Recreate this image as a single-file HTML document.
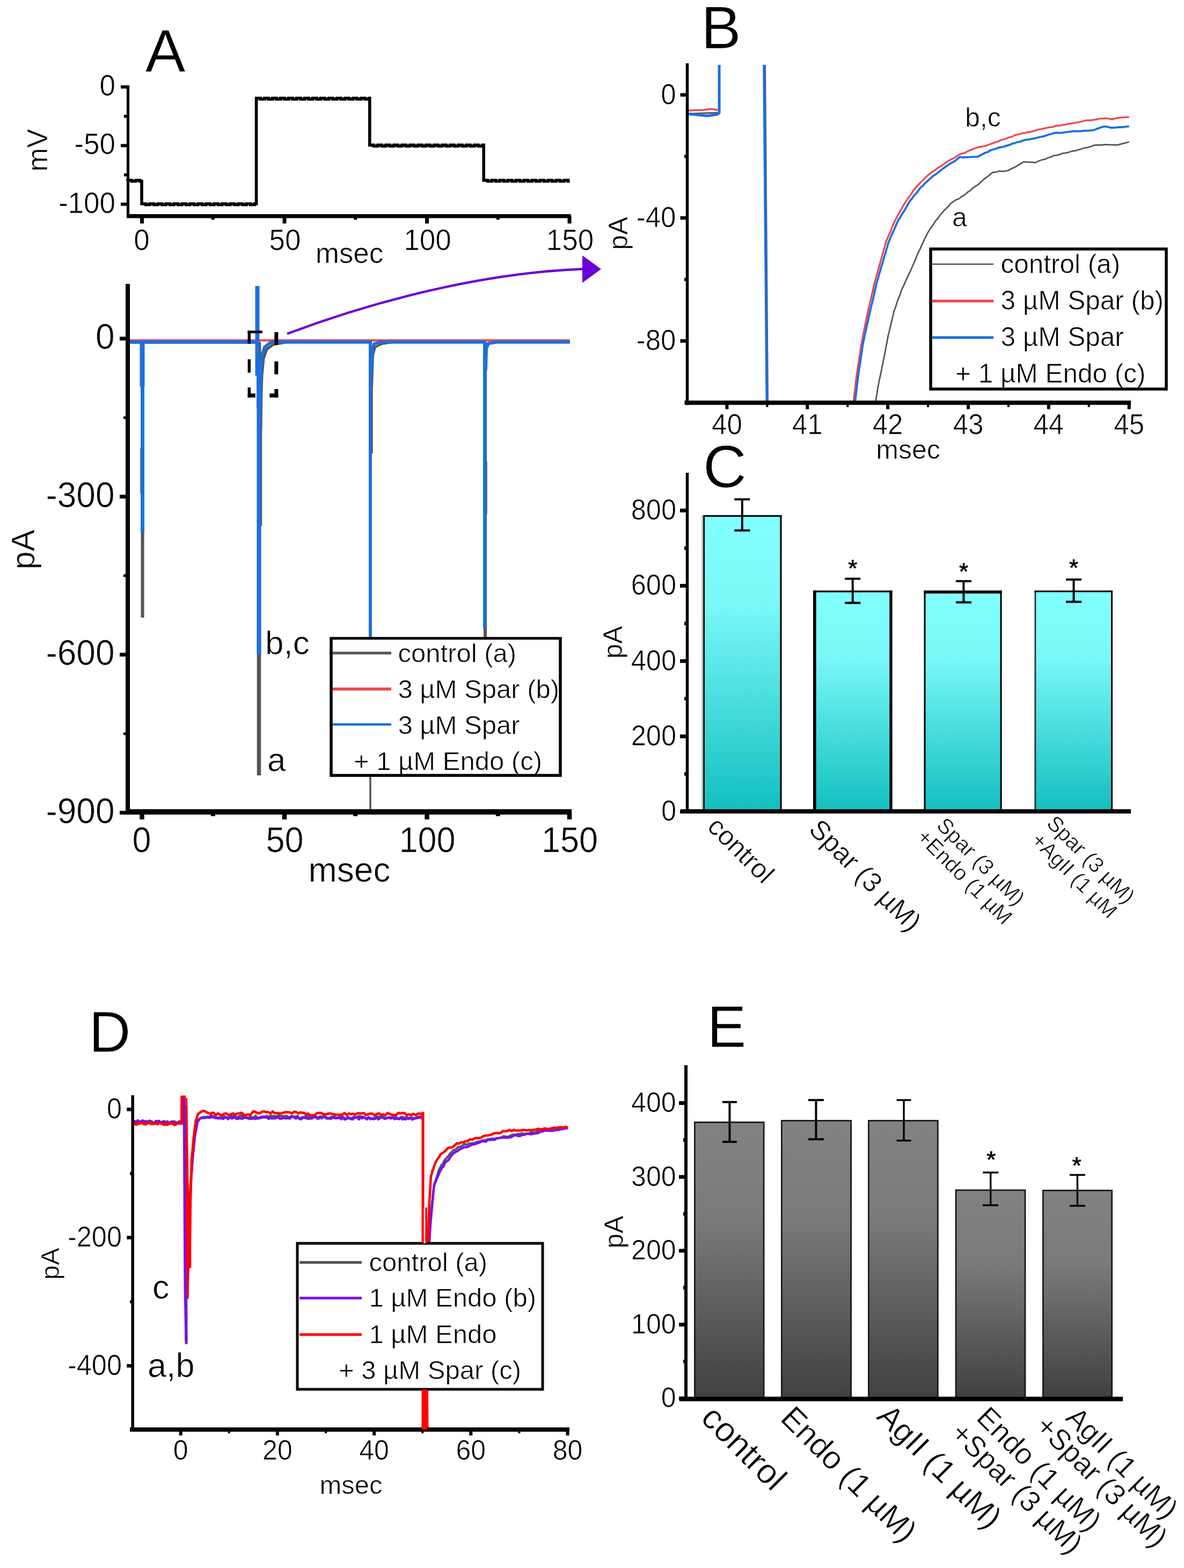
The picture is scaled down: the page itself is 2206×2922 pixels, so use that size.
<!DOCTYPE html>
<html lang="en">
<head>
<meta charset="utf-8">
<title>Figure</title>
<style>
html,body{margin:0;padding:0;background:#fff;}
body{width:2206px;height:2922px;overflow:hidden;}
svg{display:block;}
svg text{font-family:"Liberation Sans", sans-serif;fill:#000;stroke:#fff;stroke-width:0.7px;stroke-linejoin:round;}
</style>
</head>
<body>
<svg width="2206" height="2922" viewBox="0 0 2206 2922">
<rect x="0" y="0" width="2206" height="2922" fill="#ffffff"/>
<defs>
<linearGradient id="gc1" x1="0" y1="0" x2="0" y2="1"><stop offset="0" stop-color="#82ffff"/><stop offset="0.3" stop-color="#7af8f8"/><stop offset="1" stop-color="#12bfc0"/></linearGradient>
<linearGradient id="gc2" x1="0" y1="0" x2="0" y2="1"><stop offset="0" stop-color="#82ffff"/><stop offset="0.3" stop-color="#7af8f8"/><stop offset="1" stop-color="#12bfc0"/></linearGradient>
<linearGradient id="ge1" x1="0" y1="0" x2="0" y2="1"><stop offset="0" stop-color="#828282"/><stop offset="0.35" stop-color="#7a7a7a"/><stop offset="1" stop-color="#404040"/></linearGradient>
<linearGradient id="ge2" x1="0" y1="0" x2="0" y2="1"><stop offset="0" stop-color="#828282"/><stop offset="0.35" stop-color="#7a7a7a"/><stop offset="1" stop-color="#404040"/></linearGradient>
</defs>
<polyline points="238.0,336.9 238.0,336.0 245.5,336.0 245.5,337.8 253.0,337.8 253.0,336.0 260.5,336.0 260.5,337.8 264.0,337.8 264.0,379.7 271.5,379.7 271.5,381.5 279.0,381.5 279.0,379.7 286.5,379.7 286.5,381.5 294.0,381.5 294.0,379.7 301.5,379.7 301.5,381.5 309.0,381.5 309.0,379.7 316.5,379.7 316.5,381.5 324.0,381.5 324.0,379.7 331.5,379.7 331.5,381.5 339.0,381.5 339.0,379.7 346.5,379.7 346.5,381.5 354.0,381.5 354.0,379.7 361.5,379.7 361.5,381.5 369.0,381.5 369.0,379.7 376.5,379.7 376.5,381.5 384.0,381.5 384.0,379.7 391.5,379.7 391.5,381.5 399.0,381.5 399.0,379.7 406.5,379.7 406.5,381.5 414.0,381.5 414.0,379.7 421.5,379.7 421.5,381.5 429.0,381.5 429.0,379.7 436.5,379.7 436.5,381.5 444.0,381.5 444.0,379.7 451.5,379.7 451.5,381.5 459.0,381.5 459.0,379.7 466.5,379.7 466.5,381.5 474.0,381.5 474.0,379.7 477.6,379.7 477.6,183.0 485.1,183.0 485.1,184.8 492.6,184.8 492.6,183.0 500.1,183.0 500.1,184.8 507.6,184.8 507.6,183.0 515.1,183.0 515.1,184.8 522.6,184.8 522.6,183.0 530.1,183.0 530.1,184.8 537.6,184.8 537.6,183.0 545.1,183.0 545.1,184.8 552.6,184.8 552.6,183.0 560.1,183.0 560.1,184.8 567.6,184.8 567.6,183.0 575.1,183.0 575.1,184.8 582.6,184.8 582.6,183.0 590.1,183.0 590.1,184.8 597.6,184.8 597.6,183.0 605.1,183.0 605.1,184.8 612.6,184.8 612.6,183.0 620.1,183.0 620.1,184.8 627.6,184.8 627.6,183.0 635.1,183.0 635.1,184.8 642.6,184.8 642.6,183.0 650.1,183.0 650.1,184.8 657.6,184.8 657.6,183.0 665.1,183.0 665.1,184.8 672.6,184.8 672.6,183.0 680.1,183.0 680.1,184.8 687.6,184.8 687.6,183.0 688.8,183.0 688.8,270.4 696.3,270.4 696.3,272.2 703.8,272.2 703.8,270.4 711.3,270.4 711.3,272.2 718.8,272.2 718.8,270.4 726.3,270.4 726.3,272.2 733.8,272.2 733.8,270.4 741.3,270.4 741.3,272.2 748.8,272.2 748.8,270.4 756.3,270.4 756.3,272.2 763.8,272.2 763.8,270.4 771.3,270.4 771.3,272.2 778.8,272.2 778.8,270.4 786.3,270.4 786.3,272.2 793.8,272.2 793.8,270.4 801.3,270.4 801.3,272.2 808.8,272.2 808.8,270.4 816.3,270.4 816.3,272.2 823.8,272.2 823.8,270.4 831.3,270.4 831.3,272.2 838.8,272.2 838.8,270.4 846.3,270.4 846.3,272.2 853.8,272.2 853.8,270.4 861.3,270.4 861.3,272.2 868.8,272.2 868.8,270.4 876.3,270.4 876.3,272.2 883.8,272.2 883.8,270.4 891.3,270.4 891.3,272.2 898.8,272.2 898.8,270.4 901.2,270.4 901.2,336.0 908.7,336.0 908.7,337.8 916.2,337.8 916.2,336.0 923.7,336.0 923.7,337.8 931.2,337.8 931.2,336.0 938.7,336.0 938.7,337.8 946.2,337.8 946.2,336.0 953.7,336.0 953.7,337.8 961.2,337.8 961.2,336.0 968.7,336.0 968.7,337.8 976.2,337.8 976.2,336.0 983.7,336.0 983.7,337.8 991.2,337.8 991.2,336.0 998.7,336.0 998.7,337.8 1006.2,337.8 1006.2,336.0 1013.7,336.0 1013.7,337.8 1021.2,337.8 1021.2,336.0 1028.7,336.0 1028.7,337.8 1036.2,337.8 1036.2,336.0 1043.7,336.0 1043.7,337.8 1051.2,337.8 1051.2,336.0 1058.7,336.0 1058.7,337.8 1061.5,337.8" fill="none" stroke="#000" stroke-width="5.6" stroke-linejoin="miter"/>
<line x1="238.5" y1="159.0" x2="238.5" y2="406.0" stroke="#000" stroke-width="5.2" />
<line x1="236.0" y1="402.7" x2="1063.5" y2="402.7" stroke="#000" stroke-width="7.4" />
<line x1="225.0" y1="162.0" x2="238.0" y2="162.0" stroke="#000" stroke-width="6" />
<text x="215.0" y="178.0" font-size="53" text-anchor="end" transform="translate(0 -8.90) scale(1 1.05)" >0</text>
<line x1="225.0" y1="271.3" x2="238.0" y2="271.3" stroke="#000" stroke-width="6" />
<text x="215.0" y="287.3" font-size="53" text-anchor="end" transform="translate(0 -14.37) scale(1 1.05)" >-50</text>
<line x1="225.0" y1="380.6" x2="238.0" y2="380.6" stroke="#000" stroke-width="6" />
<text x="215.0" y="396.6" font-size="53" text-anchor="end" transform="translate(0 -19.83) scale(1 1.05)" >-100</text>
<line x1="231.0" y1="216.7" x2="238.0" y2="216.7" stroke="#000" stroke-width="5.5" />
<line x1="231.0" y1="325.9" x2="238.0" y2="325.9" stroke="#000" stroke-width="5.5" />
<line x1="264.5" y1="402.0" x2="264.5" y2="416.5" stroke="#000" stroke-width="7" />
<text x="264.0" y="466.5" font-size="53" text-anchor="middle" transform="translate(0 -23.33) scale(1 1.05)" >0</text>
<line x1="530.0" y1="402.0" x2="530.0" y2="416.5" stroke="#000" stroke-width="7" />
<text x="531.0" y="466.5" font-size="53" text-anchor="middle" transform="translate(0 -23.33) scale(1 1.05)" >50</text>
<line x1="795.5" y1="402.0" x2="795.5" y2="416.5" stroke="#000" stroke-width="7" />
<text x="796.5" y="466.5" font-size="53" text-anchor="middle" transform="translate(0 -23.33) scale(1 1.05)" >100</text>
<line x1="1061.0" y1="402.0" x2="1061.0" y2="416.5" stroke="#000" stroke-width="7" />
<text x="1062.0" y="466.5" font-size="53" text-anchor="middle" transform="translate(0 -23.33) scale(1 1.05)" >150</text>
<line x1="396.8" y1="402.0" x2="396.8" y2="409.5" stroke="#000" stroke-width="6" />
<line x1="662.2" y1="402.0" x2="662.2" y2="409.5" stroke="#000" stroke-width="6" />
<line x1="927.8" y1="402.0" x2="927.8" y2="409.5" stroke="#000" stroke-width="6" />
<text x="651.0" y="490.0" font-size="53" text-anchor="middle" >msec</text>
<text x="88.0" y="280.0" font-size="53" text-anchor="middle" transform="rotate(-90 88.0 280.0)" >mV</text>
<text x="308.0" y="133.4" font-size="112" text-anchor="middle" >A</text>
<line x1="265.5" y1="637.5" x2="265.5" y2="1151.0" stroke="#555555" stroke-width="6" />
<line x1="262.5" y1="835.0" x2="262.5" y2="920.0" stroke="#555555" stroke-width="2.5" />
<line x1="482.5" y1="637.5" x2="482.5" y2="1445.0" stroke="#555555" stroke-width="7.5" />
<line x1="487.0" y1="800.0" x2="487.0" y2="980.0" stroke="#555555" stroke-width="2.5" />
<line x1="690.0" y1="637.5" x2="690.0" y2="1190.0" stroke="#555555" stroke-width="6" />
<line x1="690.0" y1="1440.0" x2="690.0" y2="1513.0" stroke="#555555" stroke-width="3.5" />
<line x1="693.5" y1="693.0" x2="693.5" y2="845.0" stroke="#555555" stroke-width="2.5" />
<line x1="904.0" y1="637.5" x2="904.0" y2="1200.0" stroke="#555555" stroke-width="6" />
<line x1="906.5" y1="859.0" x2="906.5" y2="958.0" stroke="#555555" stroke-width="2.5" />
<polyline points="486.0,800.0 487.0,730.0 488.0,700.0 491.0,668.0 497.0,651.0 509.0,642.0 532.0,638.0" fill="none" stroke="#555555" stroke-width="5" stroke-linejoin="round"/>
<polyline points="693.0,720.0 695.0,662.0 699.0,647.0 711.0,641.0 731.0,638.0" fill="none" stroke="#555555" stroke-width="4" stroke-linejoin="round"/>
<line x1="238.0" y1="634.3" x2="1062.0" y2="634.3" stroke="#f0434b" stroke-width="4" />
<polyline points="238.0,637.5 263.0,637.5" fill="none" stroke="#1c6fe0" stroke-width="6.5" stroke-linejoin="round"/>
<polyline points="265.0,635.5 265.0,720.0" fill="none" stroke="#1c6fe0" stroke-width="9" stroke-linejoin="round"/>
<polyline points="265.5,700.0 265.5,993.0" fill="none" stroke="#1c6fe0" stroke-width="7" stroke-linejoin="round"/>
<polyline points="268.0,637.5 478.0,637.5" fill="none" stroke="#1c6fe0" stroke-width="6.5" stroke-linejoin="round"/>
<polyline points="479.5,533.0 479.5,700.0" fill="none" stroke="#1c6fe0" stroke-width="8" stroke-linejoin="round"/>
<polyline points="483.0,680.0 483.0,760.0" fill="none" stroke="#1c6fe0" stroke-width="10" stroke-linejoin="round"/>
<polyline points="482.5,740.0 482.5,1220.0" fill="none" stroke="#1c6fe0" stroke-width="8" stroke-linejoin="round"/>
<polyline points="484.0,780.0 485.0,720.0 486.0,690.0 488.0,662.0 493.0,647.0 503.0,639.0 520.0,637.5 688.0,637.5" fill="none" stroke="#1c6fe0" stroke-width="6" stroke-linejoin="round"/>
<polyline points="690.0,634.5 690.0,1190.0" fill="none" stroke="#1c6fe0" stroke-width="6" stroke-linejoin="round"/>
<polyline points="692.0,700.0 693.0,655.0 697.0,641.0 710.0,637.5 902.0,637.5" fill="none" stroke="#1c6fe0" stroke-width="6" stroke-linejoin="round"/>
<polyline points="903.0,634.5 903.0,1171.0" fill="none" stroke="#1c6fe0" stroke-width="6" stroke-linejoin="round"/>
<polyline points="905.0,690.0 906.0,650.0 910.0,640.0 925.0,637.5 1062.0,637.5" fill="none" stroke="#1c6fe0" stroke-width="6" stroke-linejoin="round"/>
<line x1="461.6" y1="618.5" x2="488.8" y2="618.5" stroke="#000" stroke-width="4.8" />
<line x1="464.3" y1="616.1" x2="464.3" y2="640.5" stroke="#000" stroke-width="5.4" />
<line x1="514.8" y1="619.0" x2="514.8" y2="642.5" stroke="#000" stroke-width="7" />
<line x1="464.3" y1="669.5" x2="464.3" y2="694.5" stroke="#000" stroke-width="5.4" />
<line x1="514.8" y1="673.5" x2="514.8" y2="697.5" stroke="#000" stroke-width="7" />
<line x1="464.3" y1="722.0" x2="464.3" y2="740.7" stroke="#000" stroke-width="5.4" />
<line x1="461.6" y1="737.0" x2="475.8" y2="737.0" stroke="#000" stroke-width="7.4" />
<line x1="514.8" y1="725.0" x2="514.8" y2="740.7" stroke="#000" stroke-width="7" />
<line x1="502.3" y1="737.0" x2="518.3" y2="737.0" stroke="#000" stroke-width="7.4" />
<path d="M535,622 C700,560 900,508 1090,501" fill="none" stroke="#6a00d6" stroke-width="4.5"/>
<polygon points="1085,476 1120,501.5 1085,527" fill="#6a00d6"/>
<line x1="238.0" y1="529.0" x2="238.0" y2="1518.0" stroke="#000" stroke-width="8" />
<line x1="234.0" y1="1513.0" x2="1065.0" y2="1513.0" stroke="#000" stroke-width="10" />
<line x1="223.0" y1="631.0" x2="238.0" y2="631.0" stroke="#000" stroke-width="7" />
<text x="213.5" y="650.5" font-size="64" text-anchor="end" transform="translate(0 -32.53) scale(1 1.05)" >0</text>
<line x1="223.0" y1="925.5" x2="238.0" y2="925.5" stroke="#000" stroke-width="7" />
<text x="213.5" y="945.0" font-size="64" text-anchor="end" transform="translate(0 -47.25) scale(1 1.05)" >-300</text>
<line x1="223.0" y1="1220.0" x2="238.0" y2="1220.0" stroke="#000" stroke-width="7" />
<text x="213.5" y="1239.5" font-size="64" text-anchor="end" transform="translate(0 -61.98) scale(1 1.05)" >-600</text>
<line x1="223.0" y1="1514.5" x2="238.0" y2="1514.5" stroke="#000" stroke-width="7" />
<text x="213.5" y="1534.0" font-size="64" text-anchor="end" transform="translate(0 -76.70) scale(1 1.05)" >-900</text>
<line x1="230.0" y1="778.3" x2="238.0" y2="778.3" stroke="#000" stroke-width="5" />
<line x1="230.0" y1="1072.8" x2="238.0" y2="1072.8" stroke="#000" stroke-width="5" />
<line x1="230.0" y1="1367.3" x2="238.0" y2="1367.3" stroke="#000" stroke-width="5" />
<line x1="264.5" y1="1513.0" x2="264.5" y2="1527.0" stroke="#000" stroke-width="8.5" />
<text x="264.0" y="1588.5" font-size="63" text-anchor="middle" transform="translate(0 -95.31) scale(1 1.06)" >0</text>
<line x1="530.0" y1="1513.0" x2="530.0" y2="1527.0" stroke="#000" stroke-width="8.5" />
<text x="530.5" y="1588.5" font-size="63" text-anchor="middle" transform="translate(0 -95.31) scale(1 1.06)" >50</text>
<line x1="795.5" y1="1513.0" x2="795.5" y2="1527.0" stroke="#000" stroke-width="8.5" />
<text x="796.0" y="1588.5" font-size="63" text-anchor="middle" transform="translate(0 -95.31) scale(1 1.06)" >100</text>
<line x1="1061.0" y1="1513.0" x2="1061.0" y2="1527.0" stroke="#000" stroke-width="8.5" />
<text x="1061.5" y="1588.5" font-size="63" text-anchor="middle" transform="translate(0 -95.31) scale(1 1.06)" >150</text>
<line x1="396.8" y1="1513.0" x2="396.8" y2="1521.0" stroke="#000" stroke-width="8" />
<line x1="662.2" y1="1513.0" x2="662.2" y2="1521.0" stroke="#000" stroke-width="8" />
<line x1="927.8" y1="1513.0" x2="927.8" y2="1521.0" stroke="#000" stroke-width="8" />
<text x="651.0" y="1643.0" font-size="64" text-anchor="middle" >msec</text>
<text x="64.0" y="1024.0" font-size="61" text-anchor="middle" transform="rotate(-90 64.0 1024.0)" >pA</text>
<text x="494.0" y="1219.0" font-size="62" text-anchor="start" >b,c</text>
<text x="498.0" y="1436.5" font-size="62" text-anchor="start" >a</text>
<rect x="617.0" y="1189.5" width="427.0" height="255.5" fill="#fff" stroke="#000" stroke-width="5" />
<line x1="614.5" y1="1217.0" x2="729.0" y2="1217.0" stroke="#555555" stroke-width="5" />
<line x1="614.5" y1="1284.0" x2="729.0" y2="1284.0" stroke="#f0434b" stroke-width="5.5" />
<line x1="614.5" y1="1350.0" x2="729.0" y2="1350.0" stroke="#1c6fe0" stroke-width="4.5" />
<text x="741.5" y="1234.0" font-size="49" text-anchor="start" >control (a)</text>
<text x="741.5" y="1300.5" font-size="49" text-anchor="start" >3 µM Spar (b)</text>
<text x="741.5" y="1367.5" font-size="49" text-anchor="start" >3 µM Spar</text>
<text x="659.0" y="1434.5" font-size="49" text-anchor="start" >+ 1 µM Endo (c)</text>
<rect x="617.0" y="1189.5" width="427.0" height="255.5" fill="none" stroke="#000" stroke-width="5" />
<polyline points="1280.5,212.0 1337.0,210.0" fill="none" stroke="#555555" stroke-width="3" stroke-linejoin="round"/>
<polyline points="1425.0,121.0 1430.0,750.5" fill="none" stroke="#555555" stroke-width="4" stroke-linejoin="round"/>
<polyline points="1631.0,749.6 1631.9,745.1 1632.7,739.8 1633.6,735.1 1634.4,730.2 1635.3,724.4 1636.1,719.3 1637.0,715.5 1638.0,709.7 1639.1,704.6 1640.1,700.7 1641.2,695.0 1642.2,690.5 1643.2,685.0 1644.3,680.2 1645.3,674.5 1646.3,670.2 1647.2,665.5 1648.2,660.0 1649.2,655.3 1650.2,650.2 1651.1,644.4 1652.1,640.4 1653.1,635.1 1654.0,629.7 1655.0,624.3 1656.2,620.4 1657.4,614.8 1658.6,610.1 1659.8,605.2 1661.0,599.9 1662.2,595.1 1663.4,589.3 1664.6,584.8 1665.8,579.2 1667.6,575.0 1669.3,570.0 1671.1,564.0 1672.9,559.1 1674.7,554.3 1676.5,550.5 1678.2,544.8 1680.0,540.2 1682.4,534.6 1684.7,529.8 1687.1,524.5 1689.4,519.3 1691.8,514.5 1694.1,509.4 1696.5,504.8 1698.7,499.3 1700.9,494.5 1703.1,489.2 1705.4,484.2 1707.6,478.6 1709.8,472.7 1712.0,468.5 1714.2,464.1 1716.3,459.4 1718.5,454.4 1720.7,450.0 1722.9,444.7 1725.0,441.0 1727.2,436.1 1730.4,430.7 1733.6,425.4 1736.8,421.5 1740.0,416.7 1743.7,410.7 1747.3,407.0 1751.0,401.7 1755.0,396.7 1759.0,392.3 1763.0,388.4 1767.0,384.6 1771.0,379.5 1775.0,376.4 1781.0,372.5 1787.0,370.3 1791.0,366.8 1795.0,364.5 1799.0,361.7 1803.0,358.0 1807.0,355.7 1811.0,351.7 1816.9,347.3 1822.8,343.9 1827.2,339.2 1831.6,335.5 1836.0,331.9 1840.7,328.7 1845.3,324.6 1850.0,321.0 1856.0,320.8 1862.0,318.7 1867.1,319.4 1872.3,319.0 1877.4,318.0 1882.6,315.4 1887.8,312.8 1893.0,310.2 1898.0,307.2 1903.0,304.2 1908.0,301.4 1913.2,302.2 1918.3,302.1 1923.4,302.4 1928.6,303.2 1934.7,300.2 1940.9,298.0 1947.0,296.7 1952.2,294.3 1957.5,292.7 1962.7,290.2 1968.3,289.3 1973.8,288.1 1979.4,285.8 1985.0,285.2 1991.2,283.8 1997.5,281.5 2003.7,280.9 2009.1,279.1 2014.6,277.8 2020.0,275.8 2025.9,274.8 2031.9,273.3 2037.8,270.8 2043.5,270.2 2049.2,270.3 2054.9,270.0 2060.3,269.3 2065.7,269.7 2071.2,270.1 2076.6,269.9 2082.0,270.2 2087.5,268.7 2093.0,267.3 2098.3,266.0 2103.7,264.3" fill="none" stroke="#555555" stroke-width="2.8" stroke-linejoin="round"/>
<polyline points="1280.5,206.0 1310.0,205.0 1325.0,203.0 1337.0,205.0" fill="none" stroke="#f0434b" stroke-width="3.5" stroke-linejoin="round"/>
<polyline points="1590.0,749.7 1590.6,744.5 1591.2,739.9 1591.8,734.6 1592.4,729.5 1593.0,724.9 1593.6,720.5 1594.2,715.4 1594.8,710.3 1595.4,704.7 1596.0,700.0 1596.8,694.7 1597.5,689.6 1598.2,684.5 1599.0,679.7 1599.8,675.5 1600.5,670.4 1601.2,665.4 1602.0,660.4 1602.8,654.6 1603.5,649.8 1604.2,645.2 1605.0,640.3 1606.0,635.4 1607.0,630.5 1608.0,624.5 1609.0,620.1 1610.0,615.2 1611.0,610.0 1612.0,604.6 1613.0,600.0 1614.0,594.5 1615.0,590.5 1616.0,585.4 1617.2,580.1 1618.3,574.8 1619.5,570.5 1620.7,565.1 1621.8,560.5 1623.0,555.4 1624.2,550.0 1625.3,544.9 1626.5,540.1 1627.7,534.9 1628.8,529.6 1630.0,524.8 1631.4,520.4 1632.8,514.5 1634.2,509.5 1635.6,505.2 1637.0,499.7 1638.4,495.0 1639.8,490.0 1641.2,484.8 1642.6,480.6 1644.0,474.6 1645.4,469.9 1646.8,464.6 1648.2,460.2 1649.6,454.7 1651.0,449.8 1653.1,445.3 1655.2,439.8 1657.4,435.1 1659.5,430.5 1661.6,424.5 1663.8,419.5 1665.9,414.7 1668.0,410.3 1670.6,405.6 1673.2,400.6 1675.7,396.2 1678.3,391.5 1680.9,387.3 1683.4,382.2 1686.0,378.5 1688.6,374.2 1691.8,369.8 1695.1,365.1 1698.3,360.9 1701.5,355.3 1704.8,351.2 1708.0,347.6 1712.0,343.3 1716.0,338.9 1720.0,335.5 1724.0,331.1 1728.0,327.4 1732.5,323.6 1737.0,320.3 1741.5,317.4 1746.0,313.9 1750.5,311.0 1755.0,308.6 1759.4,305.1 1763.8,302.1 1768.2,299.4 1772.5,296.9 1776.9,295.0 1781.3,291.8 1785.7,289.0 1791.5,286.4 1797.2,285.0 1803.0,281.9 1809.2,279.3 1815.4,276.8 1821.6,274.5 1827.7,273.3 1833.9,272.5 1840.0,270.6 1845.0,268.4 1850.0,267.0 1855.0,264.7 1860.0,263.6 1864.8,260.9 1869.6,259.7 1874.4,258.4 1879.1,256.3 1883.9,255.4 1888.7,253.1 1893.5,251.2 1898.7,250.2 1903.9,248.5 1909.1,247.8 1914.4,246.3 1919.6,245.9 1924.8,244.6 1930.0,243.0 1935.0,241.4 1940.1,240.5 1945.1,239.4 1950.2,238.3 1955.2,237.2 1960.3,236.9 1965.3,235.0 1970.3,233.9 1975.2,234.1 1980.2,232.7 1985.1,232.3 1990.1,230.7 1995.0,230.4 2000.0,229.2 2005.3,228.5 2010.6,227.5 2015.9,226.3 2021.1,225.0 2026.4,224.2 2031.7,224.1 2037.0,223.3 2042.8,222.6 2048.5,221.2 2054.2,220.9 2060.0,220.4 2066.0,221.2 2072.0,222.4 2078.5,220.5 2085.0,219.2 2091.2,219.1 2097.5,218.4 2103.7,218.5" fill="none" stroke="#f0434b" stroke-width="3.2" stroke-linejoin="round"/>
<polyline points="1280.5,212.0 1300.0,214.0 1318.0,216.0 1337.0,213.0 1340.0,210.0 1340.0,121.0" fill="none" stroke="#1c6fe0" stroke-width="5" stroke-linejoin="round"/>
<polyline points="1423.5,121.0 1428.8,750.5" fill="none" stroke="#1c6fe0" stroke-width="4.6" stroke-linejoin="round"/>
<polyline points="1593.0,750.1 1593.6,745.3 1594.2,740.4 1594.8,735.5 1595.4,730.3 1596.0,725.5 1596.6,719.4 1597.2,715.0 1597.8,710.5 1598.4,705.2 1599.0,700.5 1599.8,694.5 1600.5,690.0 1601.2,684.7 1602.0,680.1 1602.8,675.1 1603.5,669.4 1604.2,664.7 1605.0,659.7 1605.8,655.5 1606.5,650.3 1607.2,644.6 1608.0,640.4 1609.1,634.6 1610.2,630.1 1611.3,624.6 1612.4,619.4 1613.5,615.4 1614.5,609.7 1615.6,604.7 1616.7,600.6 1617.8,595.4 1618.9,589.7 1620.0,585.6 1621.2,580.0 1622.3,575.2 1623.5,569.6 1624.7,565.5 1625.8,560.2 1627.0,555.6 1628.2,550.5 1629.3,544.8 1630.5,539.8 1631.7,534.6 1632.8,529.6 1634.0,524.5 1635.5,519.8 1636.9,515.1 1638.4,509.4 1639.9,505.2 1641.3,499.8 1642.8,494.8 1644.3,490.4 1645.7,485.0 1647.2,479.8 1648.7,475.0 1650.1,470.2 1651.6,464.5 1653.1,460.6 1654.5,454.4 1656.0,450.3 1658.2,445.4 1660.5,439.4 1662.8,435.3 1665.0,429.8 1667.2,425.1 1669.5,419.4 1671.8,414.5 1674.0,409.6 1676.8,406.0 1679.5,400.6 1682.2,396.7 1685.0,392.4 1687.8,387.8 1690.5,382.6 1693.2,378.1 1696.0,373.7 1699.2,370.1 1702.3,365.3 1705.5,362.1 1708.7,358.3 1711.8,354.4 1715.0,349.4 1719.0,346.7 1723.0,341.7 1727.0,338.2 1731.0,334.6 1735.0,331.1 1739.5,327.1 1744.0,324.6 1748.5,320.9 1753.0,317.3 1757.5,314.0 1762.0,310.6 1766.5,307.5 1771.0,304.5 1775.5,302.1 1780.0,299.5 1784.5,295.4 1789.0,292.3 1794.3,293.5 1799.7,293.0 1805.0,292.9 1810.5,292.3 1816.1,292.3 1821.6,292.2 1826.4,289.5 1831.2,287.2 1836.0,284.5 1840.7,283.3 1845.3,280.1 1850.0,278.5 1855.0,277.5 1860.0,275.2 1865.0,274.5 1870.0,273.4 1875.0,271.6 1880.0,270.3 1885.2,267.9 1890.5,266.8 1895.7,264.8 1900.9,264.1 1906.2,261.8 1911.4,260.4 1917.1,260.0 1922.8,258.7 1928.6,257.8 1934.3,256.0 1940.0,255.0 1945.0,253.9 1950.0,252.2 1955.0,250.5 1960.0,249.3 1965.0,247.6 1970.0,247.4 1975.0,247.7 1980.0,247.3 1985.0,246.4 1990.0,245.9 1995.0,245.2 2000.0,244.5 2005.3,244.4 2010.6,244.6 2015.9,244.4 2021.1,243.4 2026.4,243.6 2031.7,243.2 2037.0,242.7 2043.0,240.4 2049.0,238.3 2053.8,236.5 2058.7,235.6 2064.1,236.4 2069.5,238.0 2074.7,238.0 2079.8,237.6 2085.0,236.8 2091.2,237.0 2097.5,236.1 2103.7,235.4" fill="none" stroke="#1c6fe0" stroke-width="3.8" stroke-linejoin="round"/>
<line x1="1280.5" y1="118.0" x2="1280.5" y2="754.5" stroke="#000" stroke-width="5.5" />
<line x1="1275.5" y1="750.5" x2="2107.0" y2="750.5" stroke="#000" stroke-width="8" />
<line x1="1267.5" y1="176.8" x2="1280.5" y2="176.8" stroke="#000" stroke-width="6.5" />
<text x="1259.5" y="193.8" font-size="51" text-anchor="end" transform="translate(0 -9.69) scale(1 1.05)" >0</text>
<line x1="1267.5" y1="406.1" x2="1280.5" y2="406.1" stroke="#000" stroke-width="6.5" />
<text x="1259.5" y="423.1" font-size="51" text-anchor="end" transform="translate(0 -21.16) scale(1 1.05)" >-40</text>
<line x1="1267.5" y1="635.4" x2="1280.5" y2="635.4" stroke="#000" stroke-width="6.5" />
<text x="1259.5" y="652.4" font-size="51" text-anchor="end" transform="translate(0 -32.62) scale(1 1.05)" >-80</text>
<line x1="1275.0" y1="291.5" x2="1280.5" y2="291.5" stroke="#000" stroke-width="6" />
<line x1="1275.0" y1="520.8" x2="1280.5" y2="520.8" stroke="#000" stroke-width="6" />
<line x1="1354.4" y1="750.5" x2="1354.4" y2="762.5" stroke="#000" stroke-width="6" />
<text x="1354.4" y="809.5" font-size="51" text-anchor="middle" transform="translate(0 -40.48) scale(1 1.05)" >40</text>
<line x1="1504.2" y1="750.5" x2="1504.2" y2="762.5" stroke="#000" stroke-width="6" />
<text x="1504.2" y="809.5" font-size="51" text-anchor="middle" transform="translate(0 -40.48) scale(1 1.05)" >41</text>
<line x1="1654.1" y1="750.5" x2="1654.1" y2="762.5" stroke="#000" stroke-width="6" />
<text x="1654.1" y="809.5" font-size="51" text-anchor="middle" transform="translate(0 -40.48) scale(1 1.05)" >42</text>
<line x1="1804.0" y1="750.5" x2="1804.0" y2="762.5" stroke="#000" stroke-width="6" />
<text x="1804.0" y="809.5" font-size="51" text-anchor="middle" transform="translate(0 -40.48) scale(1 1.05)" >43</text>
<line x1="1953.8" y1="750.5" x2="1953.8" y2="762.5" stroke="#000" stroke-width="6" />
<text x="1953.8" y="809.5" font-size="51" text-anchor="middle" transform="translate(0 -40.48) scale(1 1.05)" >44</text>
<line x1="2103.7" y1="750.5" x2="2103.7" y2="762.5" stroke="#000" stroke-width="6" />
<text x="2103.7" y="809.5" font-size="51" text-anchor="middle" transform="translate(0 -40.48) scale(1 1.05)" >45</text>
<line x1="1429.3" y1="750.5" x2="1429.3" y2="758.5" stroke="#000" stroke-width="4" />
<line x1="1579.2" y1="750.5" x2="1579.2" y2="758.5" stroke="#000" stroke-width="4" />
<line x1="1729.0" y1="750.5" x2="1729.0" y2="758.5" stroke="#000" stroke-width="4" />
<line x1="1878.9" y1="750.5" x2="1878.9" y2="758.5" stroke="#000" stroke-width="4" />
<line x1="2028.7" y1="750.5" x2="2028.7" y2="758.5" stroke="#000" stroke-width="4" />
<text x="1692.0" y="854.5" font-size="50" text-anchor="middle" >msec</text>
<text x="1168.5" y="435.0" font-size="50.8" text-anchor="middle" transform="rotate(-90 1168.5 435.0)" >pA</text>
<text x="1798.0" y="235.5" font-size="50" text-anchor="start" >b,c</text>
<text x="1774.0" y="422.0" font-size="50" text-anchor="start" >a</text>
<text x="1306.0" y="90.0" font-size="112" text-anchor="start" >B</text>
<rect x="1734.0" y="464.0" width="439.0" height="261.0" fill="#fff" stroke="#000" stroke-width="5" />
<line x1="1734.0" y1="492.3" x2="1851.0" y2="492.3" stroke="#555555" stroke-width="2.5" />
<line x1="1734.0" y1="561.0" x2="1851.0" y2="561.0" stroke="#f0434b" stroke-width="5" />
<line x1="1734.0" y1="629.0" x2="1851.0" y2="629.0" stroke="#1c6fe0" stroke-width="5" />
<text x="1864.5" y="509.0" font-size="49.5" text-anchor="start" >control (a)</text>
<text x="1864.5" y="577.0" font-size="49.5" text-anchor="start" >3 µM Spar (b)</text>
<text x="1864.5" y="645.0" font-size="49.5" text-anchor="start" >3 µM Spar</text>
<text x="1780.0" y="712.5" font-size="49.5" text-anchor="start" >+ 1 µM Endo (c)</text>
<rect x="1734.0" y="464.0" width="439.0" height="261.0" fill="none" stroke="#000" stroke-width="5" />
<rect x="1310.2" y="960.0" width="146.3" height="552.0" fill="url(#gc1)" stroke="none" stroke-width="0" />
<line x1="1311.6" y1="960.0" x2="1311.6" y2="1512.0" stroke="#000" stroke-width="2.8" />
<line x1="1454.9" y1="960.0" x2="1454.9" y2="1512.0" stroke="#000" stroke-width="3.2" />
<line x1="1310.2" y1="961.5" x2="1456.5" y2="961.5" stroke="#000" stroke-width="3" />
<rect x="1515.0" y="1100.5" width="147.5" height="411.5" fill="url(#gc1)" stroke="none" stroke-width="0" />
<line x1="1517.8" y1="1100.5" x2="1517.8" y2="1512.0" stroke="#000" stroke-width="5.6" />
<line x1="1659.9" y1="1100.5" x2="1659.9" y2="1512.0" stroke="#000" stroke-width="5.2" />
<line x1="1515.0" y1="1102.1" x2="1662.5" y2="1102.1" stroke="#000" stroke-width="3.2" />
<rect x="1721.5" y="1100.5" width="145.0" height="411.5" fill="url(#gc1)" stroke="none" stroke-width="0" />
<line x1="1723.0" y1="1100.5" x2="1723.0" y2="1512.0" stroke="#000" stroke-width="3" />
<line x1="1865.0" y1="1100.5" x2="1865.0" y2="1512.0" stroke="#000" stroke-width="3" />
<line x1="1721.5" y1="1103.3" x2="1866.5" y2="1103.3" stroke="#000" stroke-width="5.6" />
<rect x="1927.5" y="1100.5" width="145.5" height="411.5" fill="url(#gc1)" stroke="none" stroke-width="0" />
<line x1="1928.9" y1="1100.5" x2="1928.9" y2="1512.0" stroke="#333" stroke-width="2.8" />
<line x1="2071.5" y1="1100.5" x2="2071.5" y2="1512.0" stroke="#000" stroke-width="3" />
<line x1="1927.5" y1="1102.0" x2="2073.0" y2="1102.0" stroke="#000" stroke-width="3" />
<line x1="1308.8" y1="960.0" x2="1308.8" y2="1512.0" stroke="#b4b4b4" stroke-width="2.8" />
<line x1="1382.8" y1="930.5" x2="1382.8" y2="988.5" stroke="#000" stroke-width="4" />
<line x1="1368.3" y1="930.5" x2="1397.3" y2="930.5" stroke="#000" stroke-width="4" />
<line x1="1368.3" y1="988.5" x2="1397.3" y2="988.5" stroke="#000" stroke-width="4" />
<line x1="1588.7" y1="1078.5" x2="1588.7" y2="1123.5" stroke="#000" stroke-width="4" />
<line x1="1574.2" y1="1078.5" x2="1603.2" y2="1078.5" stroke="#000" stroke-width="4" />
<line x1="1574.2" y1="1123.5" x2="1603.2" y2="1123.5" stroke="#000" stroke-width="4" />
<line x1="1795.4" y1="1083.0" x2="1795.4" y2="1122.5" stroke="#000" stroke-width="4" />
<line x1="1780.9" y1="1083.0" x2="1809.9" y2="1083.0" stroke="#000" stroke-width="4" />
<line x1="1780.9" y1="1122.5" x2="1809.9" y2="1122.5" stroke="#000" stroke-width="4" />
<line x1="2000.5" y1="1080.0" x2="2000.5" y2="1121.5" stroke="#000" stroke-width="4" />
<line x1="1986.0" y1="1080.0" x2="2015.0" y2="1080.0" stroke="#000" stroke-width="4" />
<line x1="1986.0" y1="1121.5" x2="2015.0" y2="1121.5" stroke="#000" stroke-width="4" />
<text x="1588.7" y="1074.5" font-size="46" text-anchor="middle" font-weight="bold">*</text>
<text x="1795.4" y="1081.0" font-size="46" text-anchor="middle" font-weight="bold">*</text>
<text x="2000.5" y="1074.0" font-size="46" text-anchor="middle" font-weight="bold">*</text>
<line x1="1280.5" y1="881.0" x2="1280.5" y2="1516.0" stroke="#000" stroke-width="5.5" />
<line x1="1268.5" y1="1512.0" x2="2107.0" y2="1512.0" stroke="#000" stroke-width="8" />
<line x1="1267.0" y1="1512.5" x2="1280.5" y2="1512.5" stroke="#000" stroke-width="7" />
<text x="1260.0" y="1529.2" font-size="50.5" text-anchor="end" transform="translate(0 -76.46) scale(1 1.05)" >0</text>
<line x1="1267.0" y1="1372.2" x2="1280.5" y2="1372.2" stroke="#000" stroke-width="7" />
<text x="1260.0" y="1388.9" font-size="50.5" text-anchor="end" transform="translate(0 -69.45) scale(1 1.05)" >200</text>
<line x1="1267.0" y1="1231.9" x2="1280.5" y2="1231.9" stroke="#000" stroke-width="7" />
<text x="1260.0" y="1248.6" font-size="50.5" text-anchor="end" transform="translate(0 -62.43) scale(1 1.05)" >400</text>
<line x1="1267.0" y1="1091.6" x2="1280.5" y2="1091.6" stroke="#000" stroke-width="7" />
<text x="1260.0" y="1108.3" font-size="50.5" text-anchor="end" transform="translate(0 -55.42) scale(1 1.05)" >600</text>
<line x1="1267.0" y1="951.3" x2="1280.5" y2="951.3" stroke="#000" stroke-width="7" />
<text x="1260.0" y="968.0" font-size="50.5" text-anchor="end" transform="translate(0 -48.40) scale(1 1.05)" >800</text>
<line x1="1275.0" y1="1442.3" x2="1280.5" y2="1442.3" stroke="#000" stroke-width="6.5" />
<line x1="1275.0" y1="1302.0" x2="1280.5" y2="1302.0" stroke="#000" stroke-width="6.5" />
<line x1="1275.0" y1="1161.8" x2="1280.5" y2="1161.8" stroke="#000" stroke-width="6.5" />
<line x1="1275.0" y1="1021.5" x2="1280.5" y2="1021.5" stroke="#000" stroke-width="6.5" />
<text x="1159.0" y="1197.0" font-size="50" text-anchor="middle" transform="rotate(-90 1159.0 1197.0)" >pA</text>
<text x="1310.0" y="908.0" font-size="112" text-anchor="start" >C</text>
<text x="1315.5" y="1543.0" font-size="50" text-anchor="start" transform="rotate(45 1315.5 1543.0)" >control</text>
<text x="1504.5" y="1548.0" font-size="51" text-anchor="start" transform="rotate(45 1504.5 1548.0)" >Spar (3 µM)</text>
<text x="1743.0" y="1540.3" font-size="40" text-anchor="start" transform="rotate(45 1743.0 1540.3)" >Spar (3 µM)</text>
<text x="1706.0" y="1562.0" font-size="40" text-anchor="start" transform="rotate(45 1706.0 1562.0)" >+Endo (1 µM</text>
<text x="1948.0" y="1536.5" font-size="40" text-anchor="start" transform="rotate(45 1948.0 1536.5)" >Spar (3 µM)</text>
<text x="1919.5" y="1568.0" font-size="39.5" text-anchor="start" transform="rotate(45 1919.5 1568.0)" >+AgII (1 µM</text>
<polyline points="247.2,2090.1 250.3,2089.3 253.4,2091.8 256.5,2089.0 259.6,2091.3 262.7,2090.5 265.8,2089.0 268.9,2091.3 272.0,2089.0 275.1,2091.0 278.2,2089.2 281.3,2089.3 284.4,2091.0 287.5,2093.1 290.6,2089.6 293.6,2090.1 296.7,2092.2 299.8,2093.8 302.9,2092.0 306.0,2091.1 309.1,2094.1 312.2,2089.5 315.3,2093.6 318.4,2090.7 321.5,2090.0 324.6,2090.0 327.7,2090.9 330.8,2093.5 333.9,2090.4 337.0,2092.4" fill="none" stroke="#555555" stroke-width="4.5" stroke-linejoin="round"/>
<polyline points="347.0,2060.0 347.0,2505.0" fill="none" stroke="#555555" stroke-width="5" stroke-linejoin="round"/>
<polyline points="352.0,2300.3 352.1,2295.7 352.3,2292.1 352.4,2287.1 352.6,2283.1 352.7,2279.4 352.8,2276.4 353.0,2271.9 353.1,2267.6 353.3,2264.2 353.4,2259.9 353.5,2255.6 353.7,2252.6 353.8,2248.4 354.0,2243.5 354.1,2240.1 354.2,2236.1 354.4,2232.8 354.5,2228.5 354.7,2223.6 354.8,2221.0 354.9,2215.2 355.1,2211.8 355.2,2208.5 355.4,2203.3 355.5,2200.0 355.8,2194.9 356.2,2192.0 356.5,2188.0 356.8,2183.5 357.2,2179.9 357.5,2174.6 357.8,2171.2 358.2,2166.9 358.5,2162.7 358.8,2158.2 359.2,2154.8 359.5,2150.9 359.9,2145.7 360.4,2141.8 360.8,2136.4 361.2,2133.4 361.7,2129.0 362.1,2125.5 362.6,2120.9 363.0,2115.6 363.8,2111.4 364.7,2107.7 365.5,2102.0 366.3,2098.6 367.2,2093.7 368.0,2089.2 371.0,2085.6 374.0,2083.5 378.0,2081.8 382.0,2081.5 386.0,2081.3 390.0,2081.0 392.0,2082.9 395.0,2078.9 398.0,2080.8 401.0,2081.3 404.0,2083.0 407.0,2082.7 410.0,2082.9 413.1,2080.0 416.1,2080.7 419.1,2080.4 422.1,2083.1 425.1,2083.5 428.1,2079.4 431.1,2079.6 434.1,2079.9 437.1,2079.9 440.1,2081.2 443.1,2081.7 446.1,2080.1 449.1,2078.8 452.2,2080.9 455.2,2080.7 458.2,2081.7 461.2,2083.6 464.2,2082.3 467.2,2081.5 470.2,2082.0 473.2,2082.3 476.2,2079.2 479.2,2083.4 482.2,2082.9 485.2,2083.3 488.2,2083.0 491.3,2081.0 494.3,2081.0 497.3,2079.6 500.3,2082.2 503.3,2079.4 506.3,2079.4 509.3,2080.1 512.3,2079.9 515.3,2080.8 518.3,2079.4 521.3,2079.2 524.3,2079.9 527.3,2079.7 530.4,2081.0 533.4,2079.3 536.4,2083.6 539.4,2082.3 542.4,2080.0 545.4,2080.5 548.4,2081.0 551.4,2081.1 554.4,2079.9 557.4,2083.6 560.4,2084.3 563.4,2081.7 566.4,2081.8 569.5,2079.8 572.5,2079.9 575.5,2081.1 578.5,2080.8 581.5,2083.6 584.5,2080.3 587.5,2079.6 590.5,2084.3 593.5,2082.2 596.5,2080.3 599.5,2082.3 602.5,2079.7 605.5,2082.2 608.5,2084.5 611.6,2083.9 614.6,2083.1 617.6,2081.0 620.6,2081.5 623.6,2080.5 626.6,2083.6 629.6,2082.4 632.6,2083.6 635.6,2081.4 638.6,2080.9 641.6,2083.8 644.6,2084.7 647.6,2084.1 650.7,2083.8 653.7,2083.9 656.7,2083.5 659.7,2081.0 662.7,2082.5 665.7,2081.7 668.7,2080.0 671.7,2080.1 674.7,2081.3 677.7,2081.2 680.7,2083.4 683.7,2084.8 686.7,2082.2 689.8,2084.7 692.8,2085.0 695.8,2084.8 698.8,2081.9 701.8,2081.2 704.8,2081.2 707.8,2081.1 710.8,2081.1 713.8,2083.3 716.8,2084.7 719.8,2084.4 722.8,2082.6 725.8,2083.5 728.9,2084.2 731.9,2080.6 734.9,2083.5 737.9,2084.8 740.9,2084.2 743.9,2084.0 746.9,2082.7 749.9,2081.2 752.9,2084.3 755.9,2082.0 758.9,2084.4 761.9,2085.2 764.9,2082.4 768.0,2082.4 771.0,2085.2 774.0,2084.1 777.0,2081.3 780.0,2081.1 783.0,2081.2 786.0,2085.0" fill="none" stroke="#555555" stroke-width="4.5" stroke-linejoin="round"/>
<polyline points="799.0,2320.9 799.3,2314.9 799.5,2313.0 799.8,2309.4 800.1,2304.5 800.3,2299.6 800.6,2296.1 800.9,2290.9 801.1,2286.5 801.4,2285.4 801.7,2280.4 801.9,2276.1 802.2,2273.3 802.5,2267.8 802.7,2265.1 803.0,2261.0 803.5,2255.1 803.9,2251.1 804.4,2247.1 804.8,2242.9 805.3,2239.9 805.8,2234.8 806.2,2231.2 806.7,2226.3 807.2,2224.5 807.6,2218.8 808.1,2215.0 808.5,2211.3 809.0,2208.2 810.3,2202.9 811.6,2200.5 812.9,2195.4 814.1,2191.7 815.4,2187.8 816.7,2182.4 818.0,2179.8 820.4,2175.0 822.8,2170.5 825.2,2168.9 827.6,2163.0 830.0,2159.9 833.0,2157.3 836.0,2153.4 839.0,2149.3 842.0,2146.5 845.0,2143.2 849.2,2141.9 853.4,2137.8 857.6,2137.2 861.8,2134.2 866.0,2132.3 869.9,2132.9 873.8,2131.2 877.7,2130.5 881.6,2130.1 885.5,2129.7 889.5,2127.4 893.4,2127.0 897.3,2125.7 901.2,2124.9 905.1,2124.5 909.0,2122.9 913.0,2122.4 917.0,2121.6 921.0,2122.3 925.0,2120.9 929.0,2120.8 933.0,2120.3 937.0,2117.6 941.0,2117.8 945.0,2118.3 949.0,2117.5 953.0,2114.8 957.0,2114.2 961.0,2114.6 965.0,2112.9 969.0,2112.9 973.0,2111.8 977.0,2113.1 981.0,2112.9 985.3,2112.5 989.7,2109.6 994.0,2110.6 998.3,2109.8 1002.7,2107.6 1007.0,2109.1 1011.3,2108.7 1015.7,2105.8 1020.0,2107.4 1024.2,2105.3 1028.4,2105.1 1032.7,2106.1 1036.9,2105.2 1041.1,2102.8 1045.3,2103.1 1049.6,2102.9 1053.8,2102.0 1058.0,2102.0" fill="none" stroke="#555555" stroke-width="4" stroke-linejoin="round"/>
<polyline points="247.2,2088.5 250.3,2089.2 253.4,2091.2 256.5,2087.8 259.6,2090.5 262.7,2090.0 265.8,2088.0 268.9,2089.6 272.0,2091.2 275.1,2090.7 278.2,2088.5 281.3,2093.2 284.4,2092.3 287.5,2093.3 290.6,2089.0 293.6,2089.9 296.7,2088.8 299.8,2092.6 302.9,2090.1 306.0,2089.5 309.1,2091.0 312.2,2093.5 315.3,2093.1 318.4,2090.4 321.5,2089.9 324.6,2093.8 327.7,2092.1 330.8,2092.9 333.9,2089.9 337.0,2089.8" fill="none" stroke="#7a10f0" stroke-width="4.5" stroke-linejoin="round"/>
<polyline points="343.0,2044.0 345.0,2400.0 347.0,2501.0" fill="none" stroke="#7a10f0" stroke-width="5" stroke-linejoin="round"/>
<polyline points="349.0,2420.4 349.1,2415.9 349.2,2411.1 349.4,2408.9 349.5,2404.3 349.6,2400.6 349.7,2395.2 349.8,2392.7 349.9,2387.1 350.1,2384.7 350.2,2379.9 350.3,2375.7 350.4,2372.1 350.5,2368.9 350.6,2363.5 350.8,2359.3 350.9,2356.1 351.0,2351.5 351.1,2347.2 351.2,2343.3 351.3,2339.1 351.4,2335.4 351.6,2331.6 351.7,2327.6 351.8,2324.5 351.9,2319.6 352.0,2316.0 352.1,2311.4 352.3,2307.7 352.4,2303.0 352.5,2299.5 352.6,2295.0 352.8,2292.5 352.9,2288.1 353.1,2283.4 353.2,2279.9 353.3,2276.9 353.5,2271.2 353.6,2268.6 353.8,2263.9 353.9,2260.0 354.0,2256.7 354.2,2251.8 354.3,2248.0 354.5,2244.4 354.6,2241.0 354.7,2235.7 354.9,2232.7 355.0,2228.4 355.2,2224.3 355.3,2219.8 355.4,2215.7 355.6,2211.1 355.7,2207.3 355.9,2203.1 356.0,2200.5 356.3,2195.5 356.6,2191.3 356.9,2187.2 357.2,2184.7 357.5,2180.7 357.8,2176.3 358.0,2171.6 358.3,2167.5 358.6,2163.6 358.9,2159.9 359.2,2155.3 359.5,2151.9 359.9,2147.3 360.4,2144.4 360.8,2140.2 361.2,2135.1 361.7,2130.2 362.1,2127.4 362.6,2121.9 363.0,2117.7 363.8,2112.5 364.7,2108.8 365.5,2104.4 366.3,2100.0 367.2,2094.9 368.0,2091.0 371.0,2086.5 374.0,2083.5 378.0,2082.9 382.0,2083.3 386.0,2082.3 390.0,2083.0 392.0,2080.6 395.0,2082.0 398.0,2081.7 401.0,2083.5 404.0,2083.2 407.0,2084.3 410.0,2083.8 413.1,2084.1 416.1,2085.0 419.1,2082.5 422.1,2082.2 425.1,2085.5 428.1,2081.3 431.1,2084.2 434.1,2083.8 437.1,2080.8 440.1,2084.8 443.1,2085.1 446.1,2083.8 449.1,2084.3 452.2,2084.7 455.2,2081.4 458.2,2083.3 461.2,2083.2 464.2,2084.9 467.2,2084.7 470.2,2084.8 473.2,2083.6 476.2,2085.2 479.2,2084.1 482.2,2084.2 485.2,2081.9 488.2,2080.9 491.3,2081.4 494.3,2082.6 497.3,2081.3 500.3,2085.0 503.3,2083.6 506.3,2083.9 509.3,2083.9 512.3,2084.2 515.3,2083.3 518.3,2080.8 521.3,2084.8 524.3,2084.6 527.3,2083.4 530.4,2083.5 533.4,2084.2 536.4,2081.2 539.4,2084.6 542.4,2082.1 545.4,2081.3 548.4,2082.2 551.4,2084.6 554.4,2081.9 557.4,2084.6 560.4,2085.8 563.4,2083.4 566.4,2082.9 569.5,2083.3 572.5,2084.4 575.5,2084.8 578.5,2084.1 581.5,2084.2 584.5,2081.4 587.5,2081.7 590.5,2082.3 593.5,2084.7 596.5,2082.5 599.5,2083.9 602.5,2081.1 605.5,2081.3 608.5,2082.4 611.6,2084.4 614.6,2084.5 617.6,2084.5 620.6,2082.5 623.6,2083.7 626.6,2083.4 629.6,2083.4 632.6,2081.7 635.6,2085.6 638.6,2082.1 641.6,2086.0 644.6,2085.8 647.6,2081.2 650.7,2083.5 653.7,2085.3 656.7,2086.0 659.7,2083.4 662.7,2082.5 665.7,2082.2 668.7,2085.9 671.7,2082.3 674.7,2084.1 677.7,2081.9 680.7,2083.9 683.7,2086.0 686.7,2081.9 689.8,2085.4 692.8,2083.8 695.8,2085.7 698.8,2084.8 701.8,2082.4 704.8,2085.8 707.8,2083.7 710.8,2081.4 713.8,2081.3 716.8,2083.8 719.8,2083.6 722.8,2082.8 725.8,2082.1 728.9,2083.1 731.9,2082.9 734.9,2085.6 737.9,2081.4 740.9,2085.1 743.9,2085.6 746.9,2082.0 749.9,2086.0 752.9,2085.0 755.9,2085.9 758.9,2082.9 761.9,2083.3 764.9,2083.4 768.0,2086.4 771.0,2084.4 774.0,2083.3 777.0,2083.6 780.0,2082.9 783.0,2081.7 786.0,2082.0" fill="none" stroke="#7a10f0" stroke-width="4.5" stroke-linejoin="round"/>
<polyline points="799.0,2331.0 799.2,2325.2 799.5,2323.0 799.8,2316.7 800.0,2312.6 800.2,2309.2 800.5,2304.1 800.8,2300.5 801.0,2298.0 801.2,2293.7 801.5,2289.3 801.8,2284.6 802.0,2281.2 802.4,2277.1 802.8,2271.8 803.2,2268.1 803.6,2261.9 804.0,2259.8 804.4,2254.8 804.8,2251.5 805.2,2247.0 805.5,2241.8 805.9,2236.9 806.3,2235.3 806.7,2228.8 807.1,2225.6 807.5,2221.1 807.9,2216.7 808.3,2213.9 808.7,2210.4 810.6,2203.9 812.4,2200.7 814.3,2195.2 816.1,2191.6 818.0,2186.7 820.0,2182.5 822.0,2179.0 824.0,2175.6 826.0,2174.2 828.0,2169.5 830.0,2165.2 833.0,2164.0 836.0,2161.1 839.0,2156.2 842.0,2152.1 845.0,2149.1 848.5,2146.7 852.0,2145.4 855.5,2142.5 859.0,2140.9 862.5,2138.9 866.0,2137.7 869.9,2137.5 873.8,2136.0 877.7,2133.8 881.6,2132.7 885.5,2131.9 889.5,2130.3 893.4,2129.1 897.3,2127.1 901.2,2126.6 905.1,2127.5 909.0,2123.9 913.0,2124.3 917.0,2124.1 921.0,2124.1 925.0,2121.5 929.0,2121.0 933.0,2120.2 937.0,2120.0 941.0,2119.5 945.0,2120.4 949.0,2119.5 953.0,2119.0 957.0,2115.9 961.0,2115.4 965.0,2116.9 969.0,2116.9 973.0,2115.0 977.0,2114.8 981.0,2112.5 985.3,2112.9 989.7,2113.7 994.0,2112.6 998.3,2112.0 1002.7,2111.5 1007.0,2108.6 1011.3,2107.4 1015.7,2106.7 1020.0,2107.1 1024.2,2107.1 1028.4,2107.4 1032.7,2106.3 1036.9,2105.7 1041.1,2105.6 1045.3,2104.2 1049.6,2104.0 1053.8,2102.1 1058.0,2103.0" fill="none" stroke="#7a10f0" stroke-width="4.5" stroke-linejoin="round"/>
<polyline points="247.2,2095.1 250.3,2092.9 253.4,2095.7 256.5,2094.6 259.6,2093.3 262.7,2092.6 265.8,2093.1 268.9,2094.7 272.0,2094.9 275.1,2092.6 278.2,2092.5 281.3,2094.3 284.4,2094.5 287.5,2093.8 290.6,2093.1 293.6,2094.7 296.7,2092.3 299.8,2093.5 302.9,2094.2 306.0,2096.2 309.1,2094.9 312.2,2095.9 315.3,2094.3 318.4,2093.3 321.5,2093.4 324.6,2096.3 327.7,2095.3 330.8,2093.7 333.9,2092.6 337.0,2094.5" fill="none" stroke="#ff0000" stroke-width="5" stroke-linejoin="round"/>
<polyline points="338.7,2096.0 338.7,2044.0 346.0,2044.0" fill="none" stroke="#ff0000" stroke-width="5" stroke-linejoin="round"/>
<polygon points="345.5,2046 349,2046 351.5,2200 355.5,2268 356.4,2362 352.5,2364 351.5,2420 348,2420 346.5,2300" fill="#ff0000"/>
<polyline points="353.5,2362.3 353.5,2357.8 353.6,2353.5 353.6,2350.1 353.7,2346.4 353.7,2341.2 353.8,2336.9 353.8,2333.3 353.9,2329.4 353.9,2325.7 354.0,2320.9 354.0,2317.8 354.1,2313.6 354.1,2309.2 354.2,2304.6 354.2,2301.8 354.3,2296.7 354.3,2293.4 354.4,2288.4 354.4,2284.3 354.5,2281.1 354.5,2276.3 354.6,2273.3 354.6,2268.5 354.7,2264.0 354.7,2259.9 354.8,2256.2 354.8,2252.5 354.9,2248.9 354.9,2243.6 355.0,2239.9 355.0,2235.5 355.1,2232.6 355.2,2227.2 355.3,2222.9 355.4,2218.9 355.6,2215.3 355.7,2212.0 355.8,2207.8 355.9,2203.5 356.0,2199.8 356.1,2195.6 356.2,2190.5 356.3,2186.2 356.4,2183.3 356.6,2178.8 356.7,2173.6 356.8,2170.5 356.9,2165.9 357.0,2161.8 357.4,2157.7 357.7,2153.5 358.1,2149.2 358.5,2145.6 358.8,2141.8 359.2,2138.7 359.5,2133.4 359.9,2130.7 360.3,2125.5 360.6,2121.8 361.0,2118.5 361.5,2114.4 362.0,2109.6 362.5,2104.9 363.1,2101.4 363.6,2097.1 364.1,2093.8 364.6,2088.5 366.0,2084.8 367.3,2081.6 368.7,2076.2 371.9,2073.9 375.0,2071.5 380.0,2069.9 386.0,2073.3 392.0,2076.0 394.0,2073.7 398.0,2073.8 402.0,2078.1 406.0,2074.8 410.0,2077.2 414.0,2078.0 418.0,2075.2 422.0,2074.9 426.0,2078.3 430.0,2076.6 434.0,2074.8 438.0,2077.1 442.0,2075.1 446.0,2074.9 450.0,2073.5 454.0,2077.3 458.0,2078.1 462.0,2076.7 466.0,2078.2 470.0,2073.6 472.0,2070.7 476.0,2072.0 480.0,2074.5 484.0,2074.5 488.0,2071.8 492.0,2071.2 496.0,2072.2 500.0,2072.6 504.0,2074.9 508.0,2071.2 512.0,2074.4 516.0,2074.2 520.0,2074.7 524.0,2074.5 528.0,2073.8 532.0,2072.5 536.0,2072.6 540.0,2072.9 544.0,2075.0 548.0,2071.6 552.0,2072.3 556.0,2075.2 560.0,2072.7 562.0,2073.8 566.0,2073.7 570.0,2076.3 574.0,2075.1 578.0,2078.4 582.0,2077.9 586.0,2078.4 590.0,2074.8 594.0,2073.9 598.0,2074.0 602.0,2076.0 606.0,2077.0 610.0,2075.7 614.0,2074.7 618.0,2075.6 622.0,2076.6 626.0,2076.9 630.0,2077.2 634.0,2077.7 638.0,2076.8 642.0,2074.1 646.0,2077.7 650.0,2075.0 654.0,2076.3 658.0,2075.4 662.0,2077.2 666.0,2074.5 670.0,2074.7 674.0,2074.7 678.0,2074.3 682.0,2077.9 686.0,2076.4 690.0,2075.1 694.0,2075.5 698.0,2078.5 702.0,2076.0 706.0,2074.7 710.0,2077.5 714.0,2076.8 718.0,2078.5 722.0,2074.0 726.0,2075.9 730.0,2077.6 734.0,2077.7 738.0,2078.1 742.0,2073.7 746.0,2075.0 750.0,2074.1 754.0,2074.4 758.0,2078.4 762.0,2076.4 766.0,2078.2 770.0,2075.4 774.0,2077.8 778.0,2075.7 782.0,2074.8 786.0,2077.4 787.5,2074.0" fill="none" stroke="#ff0000" stroke-width="4.5" stroke-linejoin="round"/>
<line x1="788.0" y1="2072.0" x2="788.0" y2="2664.0" stroke="#ff0000" stroke-width="5" />
<line x1="794.0" y1="2380.0" x2="796.0" y2="2664.0" stroke="#ff0000" stroke-width="5" />
<line x1="791.0" y1="2250.0" x2="791.0" y2="2664.0" stroke="#7a10f0" stroke-width="3" />
<polyline points="796.0,2401.3 796.1,2394.8 796.2,2392.3 796.2,2388.4 796.3,2383.2 796.4,2379.6 796.5,2374.9 796.6,2371.1 796.6,2367.3 796.7,2364.3 796.8,2360.5 796.9,2355.1 797.0,2350.5 797.0,2347.5 797.1,2344.5 797.2,2339.1 797.3,2335.4 797.4,2331.1 797.4,2328.9 797.5,2324.1 797.6,2318.7 797.7,2314.8 797.8,2311.7 797.8,2308.2 797.9,2304.4 798.0,2298.8 798.1,2295.0 798.3,2292.6 798.4,2287.7 798.5,2283.3 798.7,2279.4 798.8,2277.4 798.9,2271.4 799.1,2268.2 799.2,2263.6 799.3,2259.7 799.5,2257.1 799.6,2253.5 799.7,2247.6 799.9,2243.1 800.0,2240.7 800.2,2235.0 800.5,2230.4 800.8,2229.0 801.0,2223.4 801.2,2220.5 801.5,2215.2 801.8,2212.6 802.0,2207.2 802.2,2202.2 802.5,2197.7 802.8,2195.2 803.0,2191.4 804.4,2188.0 805.8,2181.4 807.2,2178.8 808.6,2173.8 810.0,2170.0 811.9,2165.3 813.9,2162.0 815.8,2159.1 817.7,2156.7 820.8,2151.1 823.9,2149.2 826.9,2147.0 830.0,2144.4 833.6,2140.2 837.1,2138.2 840.7,2138.8 844.3,2137.0 847.9,2133.7 851.4,2130.5 855.0,2131.3 859.2,2128.5 863.3,2128.9 867.5,2126.9 871.7,2126.3 875.8,2123.1 880.0,2123.9 884.1,2121.2 888.3,2120.7 892.4,2121.0 896.6,2120.0 900.7,2117.0 904.9,2116.2 909.0,2115.7 913.0,2115.1 917.0,2113.7 921.0,2111.9 925.0,2111.2 929.0,2111.7 933.0,2111.2 937.0,2107.6 941.0,2108.2 945.0,2107.8 949.1,2105.5 953.2,2107.8 957.3,2105.6 961.4,2106.9 965.5,2106.7 969.5,2106.8 973.6,2105.8 977.7,2106.0 981.8,2106.4 985.9,2105.9 990.0,2106.5 994.3,2105.4 998.6,2105.0 1002.9,2103.3 1007.1,2104.6 1011.4,2103.8 1015.7,2102.6 1020.0,2103.8 1024.2,2103.6 1028.4,2102.4 1032.7,2101.4 1036.9,2102.0 1041.1,2100.7 1045.3,2100.6 1049.6,2101.2 1053.8,2100.0 1058.0,2101.0" fill="none" stroke="#ff0000" stroke-width="4.5" stroke-linejoin="round"/>
<line x1="247.2" y1="2041.0" x2="247.2" y2="2668.0" stroke="#000" stroke-width="5.5" />
<line x1="242.2" y1="2664.0" x2="1061.0" y2="2664.0" stroke="#000" stroke-width="8" />
<line x1="236.2" y1="2067.4" x2="247.2" y2="2067.4" stroke="#000" stroke-width="6.5" />
<text x="227.0" y="2083.8" font-size="50.5" text-anchor="end" transform="translate(0 -104.19) scale(1 1.05)" >0</text>
<line x1="236.2" y1="2306.3" x2="247.2" y2="2306.3" stroke="#000" stroke-width="6.5" />
<text x="227.0" y="2322.7" font-size="50.5" text-anchor="end" transform="translate(0 -116.14) scale(1 1.05)" >-200</text>
<line x1="236.2" y1="2545.2" x2="247.2" y2="2545.2" stroke="#000" stroke-width="6.5" />
<text x="227.0" y="2561.6" font-size="50.5" text-anchor="end" transform="translate(0 -128.08) scale(1 1.05)" >-400</text>
<line x1="242.2" y1="2186.8" x2="247.2" y2="2186.8" stroke="#000" stroke-width="6" />
<line x1="242.2" y1="2425.8" x2="247.2" y2="2425.8" stroke="#000" stroke-width="6" />
<line x1="336.7" y1="2664.0" x2="336.7" y2="2675.0" stroke="#000" stroke-width="6" />
<text x="336.7" y="2720.5" font-size="50" text-anchor="middle" transform="translate(0 -136.03) scale(1 1.05)" >0</text>
<line x1="516.9" y1="2664.0" x2="516.9" y2="2675.0" stroke="#000" stroke-width="6" />
<text x="516.9" y="2720.5" font-size="50" text-anchor="middle" transform="translate(0 -136.03) scale(1 1.05)" >20</text>
<line x1="697.1" y1="2664.0" x2="697.1" y2="2675.0" stroke="#000" stroke-width="6" />
<text x="697.1" y="2720.5" font-size="50" text-anchor="middle" transform="translate(0 -136.03) scale(1 1.05)" >40</text>
<line x1="877.3" y1="2664.0" x2="877.3" y2="2675.0" stroke="#000" stroke-width="6" />
<text x="877.3" y="2720.5" font-size="50" text-anchor="middle" transform="translate(0 -136.03) scale(1 1.05)" >60</text>
<line x1="1057.5" y1="2664.0" x2="1057.5" y2="2675.0" stroke="#000" stroke-width="6" />
<text x="1057.5" y="2720.5" font-size="50" text-anchor="middle" transform="translate(0 -136.03) scale(1 1.05)" >80</text>
<line x1="426.8" y1="2664.0" x2="426.8" y2="2671.0" stroke="#000" stroke-width="4" />
<line x1="607.0" y1="2664.0" x2="607.0" y2="2671.0" stroke="#000" stroke-width="4" />
<line x1="787.2" y1="2664.0" x2="787.2" y2="2671.0" stroke="#000" stroke-width="4" />
<line x1="967.4" y1="2664.0" x2="967.4" y2="2671.0" stroke="#000" stroke-width="4" />
<text x="654.0" y="2784.0" font-size="49" text-anchor="middle" >msec</text>
<text x="110.0" y="2355.0" font-size="49" text-anchor="middle" transform="rotate(-90 110.0 2355.0)" >pA</text>
<text x="165.5" y="1959.5" font-size="108" text-anchor="start" >D</text>
<text x="284.0" y="2419.5" font-size="63" text-anchor="start" >c</text>
<text x="275.0" y="2566.0" font-size="63" text-anchor="start" >a,b</text>
<rect x="554.0" y="2317.0" width="457.0" height="272.0" fill="#fff" stroke="#000" stroke-width="4.6" />
<line x1="558.0" y1="2352.5" x2="674.0" y2="2352.5" stroke="#555555" stroke-width="5" />
<line x1="558.0" y1="2419.0" x2="674.0" y2="2419.0" stroke="#7a10f0" stroke-width="5" />
<line x1="558.0" y1="2487.0" x2="674.0" y2="2487.0" stroke="#ff0000" stroke-width="5" />
<text x="687.5" y="2368.5" font-size="49" text-anchor="start" >control (a)</text>
<text x="687.5" y="2435.0" font-size="49" text-anchor="start" >1 µM Endo (b)</text>
<text x="687.5" y="2502.5" font-size="49" text-anchor="start" >1 µM Endo</text>
<text x="631.0" y="2570.0" font-size="49" text-anchor="start" >+ 3 µM Spar (c)</text>
<rect x="554.0" y="2317.0" width="457.0" height="272.0" fill="none" stroke="#000" stroke-width="4.6" />
<line x1="791.0" y1="2589.0" x2="791.0" y2="2664.0" stroke="#ff0000" stroke-width="10" />
<line x1="791.0" y1="2250.0" x2="791.0" y2="2317.0" stroke="#ff0000" stroke-width="10" />
<line x1="791.0" y1="2250.0" x2="791.0" y2="2317.0" stroke="#fff" stroke-width="2.5" />
<rect x="1294.4" y="2091.4" width="128.7" height="515.6" fill="url(#ge1)" stroke="#1a1a1a" stroke-width="2.8" />
<rect x="1456.4" y="2088.4" width="129.2" height="518.6" fill="url(#ge1)" stroke="#1a1a1a" stroke-width="2.8" />
<rect x="1618.4" y="2088.4" width="128.9" height="518.6" fill="url(#ge1)" stroke="#1a1a1a" stroke-width="2.8" />
<rect x="1781.0" y="2217.9" width="129.0" height="389.1" fill="url(#ge2)" stroke="#1a1a1a" stroke-width="2.8" />
<rect x="1943.4" y="2218.4" width="128.2" height="388.6" fill="url(#ge2)" stroke="#1a1a1a" stroke-width="2.8" />
<line x1="1359.4" y1="2053.7" x2="1359.4" y2="2127.8" stroke="#000" stroke-width="4" />
<line x1="1345.9" y1="2053.7" x2="1372.9" y2="2053.7" stroke="#000" stroke-width="4" />
<line x1="1345.9" y1="2127.8" x2="1372.9" y2="2127.8" stroke="#000" stroke-width="4" />
<line x1="1520.4" y1="2050.0" x2="1520.4" y2="2123.0" stroke="#000" stroke-width="4" />
<line x1="1505.9" y1="2050.0" x2="1534.9" y2="2050.0" stroke="#000" stroke-width="4" />
<line x1="1505.9" y1="2123.0" x2="1534.9" y2="2123.0" stroke="#000" stroke-width="4" />
<line x1="1684.0" y1="2050.0" x2="1684.0" y2="2125.5" stroke="#000" stroke-width="3.4" />
<line x1="1670.5" y1="2050.0" x2="1697.5" y2="2050.0" stroke="#000" stroke-width="3.4" />
<line x1="1670.5" y1="2125.5" x2="1697.5" y2="2125.5" stroke="#000" stroke-width="3.4" />
<line x1="1845.7" y1="2185.0" x2="1845.7" y2="2246.0" stroke="#000" stroke-width="3.4" />
<line x1="1831.2" y1="2185.0" x2="1860.2" y2="2185.0" stroke="#000" stroke-width="3.4" />
<line x1="1831.2" y1="2246.0" x2="1860.2" y2="2246.0" stroke="#000" stroke-width="3.4" />
<line x1="2007.4" y1="2189.5" x2="2007.4" y2="2247.0" stroke="#000" stroke-width="3.4" />
<line x1="1992.9" y1="2189.5" x2="2021.9" y2="2189.5" stroke="#000" stroke-width="3.4" />
<line x1="1992.9" y1="2247.0" x2="2021.9" y2="2247.0" stroke="#000" stroke-width="3.4" />
<text x="1846.7" y="2177.0" font-size="46" text-anchor="middle" font-weight="bold">*</text>
<text x="2006.0" y="2188.0" font-size="46" text-anchor="middle" font-weight="bold">*</text>
<line x1="1278.0" y1="1985.0" x2="1278.0" y2="2611.0" stroke="#000" stroke-width="6" />
<line x1="1266.0" y1="2607.0" x2="2092.0" y2="2607.0" stroke="#000" stroke-width="8.5" />
<line x1="1265.0" y1="2606.0" x2="1278.0" y2="2606.0" stroke="#000" stroke-width="7" />
<text x="1259.5" y="2622.5" font-size="50" text-anchor="end" transform="translate(0 -131.13) scale(1 1.05)" >0</text>
<line x1="1265.0" y1="2468.4" x2="1278.0" y2="2468.4" stroke="#000" stroke-width="7" />
<text x="1259.5" y="2484.9" font-size="50" text-anchor="end" transform="translate(0 -124.25) scale(1 1.05)" >100</text>
<line x1="1265.0" y1="2330.8" x2="1278.0" y2="2330.8" stroke="#000" stroke-width="7" />
<text x="1259.5" y="2347.3" font-size="50" text-anchor="end" transform="translate(0 -117.37) scale(1 1.05)" >200</text>
<line x1="1265.0" y1="2193.2" x2="1278.0" y2="2193.2" stroke="#000" stroke-width="7" />
<text x="1259.5" y="2209.7" font-size="50" text-anchor="end" transform="translate(0 -110.49) scale(1 1.05)" >300</text>
<line x1="1265.0" y1="2055.6" x2="1278.0" y2="2055.6" stroke="#000" stroke-width="7" />
<text x="1259.5" y="2072.1" font-size="50" text-anchor="end" transform="translate(0 -103.61) scale(1 1.05)" >400</text>
<line x1="1273.0" y1="2537.2" x2="1278.0" y2="2537.2" stroke="#000" stroke-width="6.5" />
<line x1="1273.0" y1="2399.6" x2="1278.0" y2="2399.6" stroke="#000" stroke-width="6.5" />
<line x1="1273.0" y1="2262.0" x2="1278.0" y2="2262.0" stroke="#000" stroke-width="6.5" />
<line x1="1273.0" y1="2124.4" x2="1278.0" y2="2124.4" stroke="#000" stroke-width="6.5" />
<text x="1161.0" y="2296.0" font-size="50" text-anchor="middle" transform="rotate(-90 1161.0 2296.0)" >pA</text>
<text x="1317.5" y="1951.3" font-size="109" text-anchor="start" >E</text>
<text x="1303.0" y="2645.5" font-size="64" text-anchor="start" transform="rotate(45 1303.0 2645.5)" >control</text>
<text x="1451.5" y="2645.5" font-size="59.5" text-anchor="start" transform="rotate(45 1451.5 2645.5)" >Endo (1 µM)</text>
<text x="1631.0" y="2642.0" font-size="60" text-anchor="start" transform="rotate(45 1631.0 2642.0)" >AgII (1 µM)</text>
<text x="1816.7" y="2644.3" font-size="54.5" text-anchor="start" transform="rotate(45 1816.7 2644.3)" >Endo (1 µM)</text>
<text x="1768.7" y="2673.4" font-size="54.3" text-anchor="start" transform="rotate(45 1768.7 2673.4)" >+Spar (3 µM)</text>
<text x="1983.0" y="2644.4" font-size="54" text-anchor="start" transform="rotate(45 1983.0 2644.4)" >AgII (1 µM)</text>
<text x="1926.7" y="2660.6" font-size="54.4" text-anchor="start" transform="rotate(45 1926.7 2660.6)" >+Spar (3 µM)</text>
</svg>
</body>
</html>
